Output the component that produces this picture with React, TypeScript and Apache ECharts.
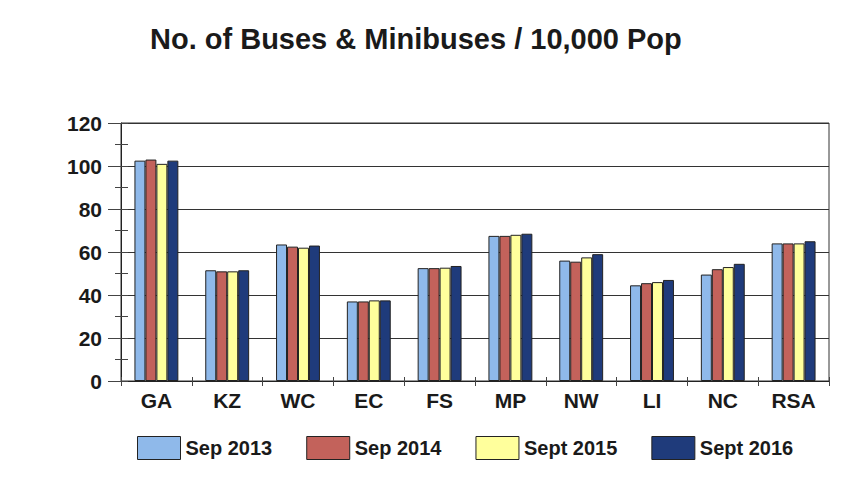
import React, { useEffect, useRef } from "react";
import * as echarts from "echarts";

const categories = ["GA", "KZ", "WC", "EC", "FS", "MP", "NW", "LI", "NC", "RSA"];
const seriesNames = ["Sep 2013", "Sep 2014", "Sept 2015", "Sept 2016"];
const sep2013 = [102.5, 51.5, 63.5, 37, 52.5, 67.5, 56, 44.5, 49.5, 64];
const sep2014 = [103, 51, 62.5, 37, 52.5, 67.5, 55.5, 45.5, 52, 64];
const sept2015 = [101, 51, 62, 37.5, 52.7, 68, 57.5, 46, 53, 64];
const sept2016 = [102.5, 51.5, 63, 37.5, 53.5, 68.5, 59, 47, 54.5, 65];
const yTicks = [0, 20, 40, 60, 80, 100, 120];
const colors = ["#8fb9ea", "#c3625b", "#ffff9c", "#1f3b7b"];

const FONT = "Liberation Sans, Arial, sans-serif";

export default function App() {
  const ref = useRef<HTMLDivElement>(null);
  useEffect(() => {
    if (!ref.current) return;
    const chart = echarts.init(ref.current, undefined, { renderer: "svg" });
    const values = [sep2013, sep2014, sept2015, sept2016];
    const gridBox = { left: 121, right: 33, top: 123, bottom: 101 };
    chart.setOption({
      animation: false,
      backgroundColor: "#ffffff",
      title: {
        text: "No. of Buses & Minibuses / 10,000 Pop",
        left: 150,
        top: 24,
        padding: 0,
        textStyle: { fontFamily: FONT, fontSize: 29, fontWeight: "bold", color: "#1a1a1a" },
      },
      legend: {
        data: seriesNames,
        left: 137,
        top: 436,
        padding: 0,
        itemWidth: 43,
        itemHeight: 23,
        itemGap: 34,
        icon: "rect",
        itemStyle: { borderColor: "#222", borderWidth: 1 },
        textStyle: { fontFamily: FONT, fontSize: 20, fontWeight: "bold", color: "#1a1a1a" },
      },
      grid: [
        { ...gridBox, show: true, borderColor: "#333", borderWidth: 1, containLabel: false },
        { ...gridBox, show: false, containLabel: false },
      ],
      xAxis: [
        {
          type: "category",
          gridIndex: 0,
          data: categories,
          axisLine: { lineStyle: { color: "#222", width: 1 } },
          axisTick: { show: true, length: 5, lineStyle: { color: "#444" } },
          axisLabel: { fontFamily: FONT, fontSize: 21, fontWeight: "bold", color: "#1a1a1a", margin: 9 },
        },
        {
          type: "category",
          gridIndex: 1,
          data: categories,
          axisLine: { show: false },
          axisTick: { show: true, inside: true, length: 4, lineStyle: { color: "#444" } },
          axisLabel: { show: false },
        },
      ],
      yAxis: [
        {
          type: "value",
          gridIndex: 0,
          min: 0,
          max: 120,
          interval: 20,
          axisLine: { show: true, lineStyle: { color: "#222", width: 1 } },
          axisTick: { show: true, length: 13, lineStyle: { color: "#444" } },
          minorTick: { show: true, splitNumber: 2, length: 6, lineStyle: { color: "#444" } },
          splitLine: { show: true, lineStyle: { color: "#333", width: 1 } },
          axisLabel: {
            fontFamily: FONT,
            fontSize: 21,
            fontWeight: "bold",
            color: "#1a1a1a",
            margin: 19,
            formatter: (v: number) => (yTicks.includes(v) ? String(v) : ""),
          },
        },
        {
          type: "value",
          gridIndex: 1,
          min: 0,
          max: 120,
          interval: 20,
          axisLine: { show: false },
          axisTick: { show: true, inside: true, length: 7, lineStyle: { color: "#444" } },
          minorTick: { show: true, splitNumber: 2, length: 7, lineStyle: { color: "#444" } },
          splitLine: { show: false },
          axisLabel: { show: false },
        },
      ],
      series: seriesNames.map((name, i) => ({
        name,
        type: "bar",
        xAxisIndex: 0,
        yAxisIndex: 0,
        data: values[i],
        barGap: "0%",
        barCategoryGap: "38%",
        itemStyle: { color: colors[i], borderColor: "#222", borderWidth: 1 },
      })),
    });
    return () => chart.dispose();
  }, []);
  return (
    <div
      ref={ref}
      style={{ position: "fixed", left: 0, top: 0, width: 862, height: 482, background: "#fff" }}
    />
  );
}
